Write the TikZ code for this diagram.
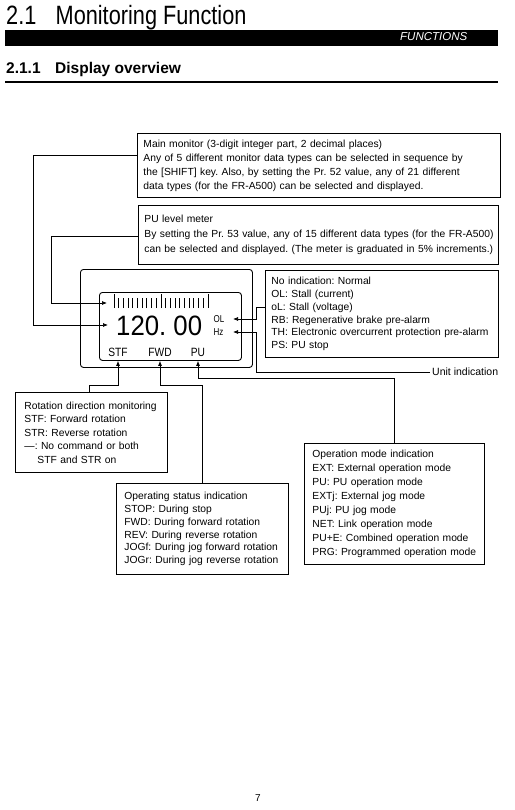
\documentclass[tikz,border=0pt]{standalone}
\usepackage{fontspec}
\setmainfont{Liberation Sans}
\usepackage{graphicx}
\usetikzlibrary{arrows.meta}
\newcommand{\boxln}[1]{\mbox{#1}}
\begin{document}
\frenchspacing
\begin{tikzpicture}[x=1pt,y=-1pt,
  arr/.style={line width=0.7pt,-{Latex[length=5pt,width=4pt]}},
  boxt/.style={draw,line width=0.9pt,anchor=north west,align=left,inner ysep=0pt,
    font={\fontsize{10.3pt}{#1pt}\selectfont}},
  lcdbox/.style={draw,line width=0.9pt,rounded corners=3pt,anchor=north west,inner sep=0pt},
  lcdlab/.style={inner sep=0pt,font={\fontsize{12pt}{12pt}\selectfont}},
  small/.style={inner sep=0pt,anchor=west,font={\fontsize{10pt}{10pt}\selectfont}},
]
\fill[white] (0,0) rectangle (514,810);
\useasboundingbox (0,0) rectangle (514,810);

% header
\node[anchor=base west,inner sep=0pt,font={\fontsize{26.5pt}{30pt}\selectfont}] (title) at (6,25)
  {\scalebox{0.82}[1]{2.1\hspace{23.5pt}Monitoring Function}};
\fill[black] (5,30) rectangle (498,46);
\node[anchor=base west,inner sep=0pt,text=white,font={\fontsize{11.5pt}{12pt}\selectfont\itshape}] (functions) at (400,41) {FUNCTIONS};
\node[anchor=base west,inner sep=0pt,font={\fontsize{15.5pt}{18pt}\selectfont\bfseries}] (sub) at (6,74)
  {2.1.1\hspace{14.5pt}Display overview};
\fill[black] (5,80.8) rectangle (498,83.4);

% text boxes
\node[boxt=14,text width=351pt,inner xsep=6pt,minimum height=64pt] (mainbox) at (137,133) {%
\boxln{Main monitor (3-digit integer part, 2 decimal places)}\\
\boxln{Any of 5 different monitor data types can be selected in sequence by}\\
\boxln{the [SHIFT] key. Also, by setting the Pr. 52 value, any of 21 different}\\
\boxln{data types (for the FR-A500) can be selected and displayed.}};

\node[boxt=15,text width=348pt,inner xsep=6pt,minimum height=59pt] (pubox) at (138,205) {%
\boxln{PU level meter}\\
\boxln{By setting the Pr. 53 value, any of 15 different data types (for the FR-A500)}\\
\boxln{can be selected and displayed. (The meter is graduated in 5\% increments.)}};

\node[boxt=12.8,text width=221pt,inner xsep=6pt,minimum height=87pt] (statusbox) at (265,270) {%
\boxln{No indication: Normal}\\
\boxln{OL: Stall (current)}\\
\boxln{oL: Stall (voltage)}\\
\boxln{RB: Regenerative brake pre-alarm}\\
\boxln{TH: Electronic overcurrent protection pre-alarm}\\
\boxln{PS: PU stop}};

\node[boxt=13.5,text width=134pt,inner xsep=9pt,minimum height=80pt] (rotbox) at (15,392) {%
\boxln{Rotation direction monitoring}\\
\boxln{STF: Forward rotation}\\
\boxln{STR: Reverse rotation}\\
\boxln{—: No command or both}\\
\boxln{\hspace*{13pt}STF and STR on}};

\node[boxt=12.8,text width=156pt,inner xsep=8pt,minimum height=91pt] (opbox) at (116,483) {%
\boxln{Operating status indication}\\
\boxln{STOP: During stop}\\
\boxln{FWD: During forward rotation}\\
\boxln{REV: During reverse rotation}\\
\boxln{JOGf: During jog forward rotation}\\
\boxln{JOGr: During jog reverse rotation}};

\node[boxt=13.9,text width=164pt,inner xsep=8pt,minimum height=121pt] (modebox) at (304,443) {%
\boxln{Operation mode indication}\\
\boxln{EXT: External operation mode}\\
\boxln{PU: PU operation mode}\\
\boxln{EXTj: External jog mode}\\
\boxln{PUj: PU jog mode}\\
\boxln{NET: Link operation mode}\\
\boxln{PU+E: Combined operation mode}\\
\boxln{PRG: Programmed operation mode}};

\node[anchor=west,inner xsep=2pt,inner ysep=0pt,font={\fontsize{10.5pt}{12pt}\selectfont}] (unit) at (430,372) {Unit indication};

% display
\node[lcdbox,minimum width=172pt,minimum height=98pt] (display) at (80,269) {};
\node[lcdbox,minimum width=142pt,minimum height=68pt] (lcd) at (99,292) {};
\foreach \i in {0,...,20}{
  \pgfmathsetmacro\tx{114+4.7*\i}
  \pgfmathsetmacro\ty{ifthenelse(mod(\i,10)==0,294,298)}
  \draw[line width=0.9pt] (\tx,308) -- (\tx,\ty);
}
\node[anchor=base west,inner sep=0pt,font={\fontsize{28pt}{28pt}\selectfont}] (digits) at (116,335.5)
  {\scalebox{0.92}[1]{120. 00}};
\node[small] (ol) at (213.5,319) {\scalebox{0.8}[1]{OL}};
\node[small] (hz) at (213.5,332) {\scalebox{0.8}[1]{Hz}};
\node[lcdlab,anchor=base] (stf) at (118,356) {\scalebox{0.85}[1]{STF}};
\node[lcdlab,anchor=base] (fwd) at (160,356) {\scalebox{0.85}[1]{FWD}};
\node[lcdlab,anchor=base] (pu) at (198,356) {\scalebox{0.85}[1]{PU}};

\coordinate (mmtip) at (108,325);
\coordinate (metertip) at (107,303);
\coordinate (oltip) at (233,319);
\coordinate (hztip) at (233,332);

% connectors
\draw[arr] ([yshift=-22pt]mainbox.north west) -- ++(-104,0) |- (mmtip);
\draw[arr] ([yshift=-31pt]pubox.north west) -- ++(-87,0) |- (metertip);
\draw[arr] ([yshift=-37pt]statusbox.north west) -- ++(-9,0) |- (oltip);
\draw[arr] (unit.west) -- ++(-174,0) |- (hztip);
\draw[arr] ([xshift=-2pt]rotbox.north) -- ++(0,-7) -| (stf |- lcd.south);
\draw[arr] (opbox.north) -- ++(0,-98) -| (fwd |- lcd.south);
\draw[arr] (modebox.north) -- ++(0,-65) -| (pu |- lcd.south);

\node[anchor=base,inner sep=0pt,font={\fontsize{10pt}{12pt}\selectfont}] (page) at (258,801) {7};
\end{tikzpicture}
\end{document}
